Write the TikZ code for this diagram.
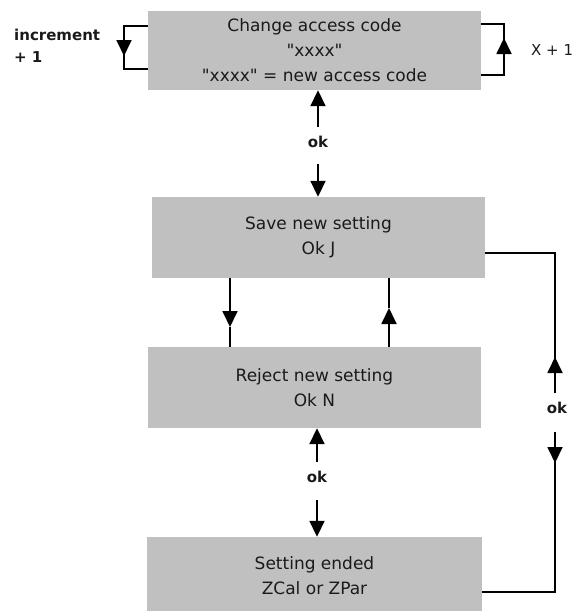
\documentclass[tikz,border=0pt]{standalone}
\usepackage{fontspec}
\setmainfont{DejaVu Sans}
\newfontfamily\plainf{DejaVu Sans}
\usetikzlibrary{arrows.meta,calc}
\definecolor{boxgray}{HTML}{C0C0C0}
\definecolor{txt}{HTML}{1A1A1A}
\begin{document}
\begin{tikzpicture}[x=1pt,y=-1pt,
  box/.style={fill=boxgray, draw=none, inner sep=0pt, align=center, text=txt,
              font=\plainf\fontsize{17}{25}\selectfont},
  lbl/.style={font=\plainf\bfseries\fontsize{15}{18}\selectfont, inner sep=0pt, text=txt},
  side/.style={font=\plainf\fontsize{15}{22}\selectfont, inner sep=0pt, text=txt},
  conn/.style={line width=1.5pt},
  arr/.style={line width=1.8pt, -{Triangle[length=16pt,width=15pt]}},
]
\useasboundingbox (0,0) rectangle (576,611);

% boxes
\node[box, minimum width=333pt, minimum height=79pt] (b1) at (314.5,50.5)
  {Change access code\\"xxxx"\\"xxxx" = new access code};
\node[box, minimum width=333pt, minimum height=81pt] (b2) at (318.5,237.5)
  {Save new setting\\Ok J};
\node[box, minimum width=333pt, minimum height=81pt] (b3) at (314.5,387.5)
  {Reject new setting\\Ok N};
\node[box, minimum width=335pt, minimum height=78pt] (b4) at (314.5,576)
  {Setting ended\\ZCal or ZPar};

% side labels
\node[lbl, anchor=base west] (inc) at (14,40) {increment};
\node[lbl, anchor=base west] (pl) at (14,62) {+ 1};
\node[side, anchor=base west] (xp) at (531,55) {X + 1};

% left loop
\coordinate (l1) at (124,26);
\coordinate (l2) at (124,69);
\coordinate (l1a) at (124,56);
\draw[conn] (b1.west |- l1) -- (l1) -- (l2) -- (b1.west |- l2);
\draw[arr] (l1) -- (l1a);

% right loop
\coordinate (r1) at (504,24);
\coordinate (r2) at (504,75);
\coordinate (r2a) at (504,38);
\draw[conn] (b1.east |- r1) -- (r1) -- (r2) -- (b1.east |- r2);
\draw[arr] (r2) -- (r2a);

% ok between b1 and b2
\node[lbl, anchor=base] (ok1) at (318,147) {ok};
\coordinate (a1) at (318,127);
\coordinate (a2) at (318,164);
\draw[arr] (a1) -- (a1 |- b1.south);
\draw[arr] (a2) -- (a2 |- b2.north);

% between b2 and b3
\coordinate (d1) at (230,327);
\coordinate (u1) at (389,308);
\draw[arr] (d1 |- b2.south) -- (d1);
\draw[conn] (d1) -- (d1 |- b3.north);
\draw[arr] (u1 |- b3.north) -- (u1);
\draw[conn] (u1) -- (u1 |- b2.south);

% ok between b3 and b4
\node[lbl] (ok2) at (317,477) {ok};
\coordinate (e1) at (317,462);
\coordinate (e2) at (317,500);
\draw[arr] (e1) -- (e1 |- b3.south);
\draw[arr] (e2) -- (e2 |- b4.north);

% right return line
\coordinate (c0) at (555,253);
\coordinate (c1) at (555,393);
\coordinate (c1a) at (555,357);
\coordinate (c2) at (555,432);
\coordinate (c2a) at (555,463);
\coordinate (c3) at (555,592);
\node[lbl] (ok3) at (557,408) {ok};
\draw[conn] (b2.east |- c0) -- (c0) -- (c1);
\draw[arr] (c1) -- (c1a);
\draw[conn] (c2) -- (c3) -- (c3 -| b4.east);
\draw[arr] (c2) -- (c2a);
\end{tikzpicture}
\end{document}
